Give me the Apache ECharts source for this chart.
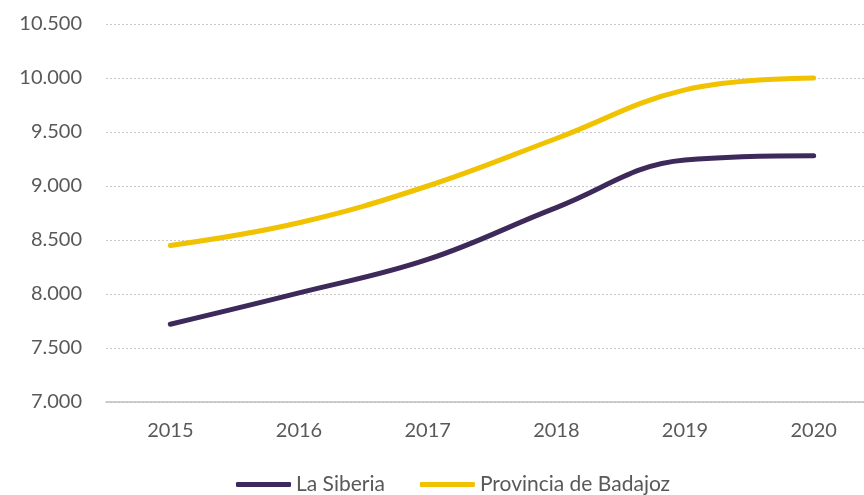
<!DOCTYPE html>
<html>
<head>
<meta charset="utf-8">
<script src="https://cdn.jsdelivr.net/npm/echarts@6/dist/echarts.min.js"></script>
<style>
  html, body { margin: 0; padding: 0; background: #fff; }
  #chart { width: 864px; height: 495px; }
</style>
</head>
<body>
<div id="chart"></div>
<script>
var years = ['2015', '2016', '2017', '2018', '2019', '2020'];
var laSiberia = [7720, 8010, 8320, 8800, 9240, 9280];
var badajoz = [8450, 8660, 9000, 9440, 9890, 10000];

var chart = echarts.init(document.getElementById('chart'));
var option = {
    animation: false,
    textStyle: { fontFamily: 'Lato, sans-serif' },
    grid: { left: 106, right: -14, top: 24, bottom: 93, outerBoundsMode: 'none' },
    legend: {
        bottom: -5,
        left: 231,
        itemWidth: 55,
        itemHeight: 5,
        itemGap: 35,
        textStyle: { fontSize: 21, color: '#595959' },
        data: [
            { name: 'La Siberia', icon: 'roundRect' },
            { name: 'Provincia de Badajoz', icon: 'roundRect' }
        ]
    },
    xAxis: {
        type: 'category',
        data: years,
        axisLine: { lineStyle: { color: '#bfbfbf', width: 1.5 } },
        axisTick: { show: false },
        axisLabel: { fontSize: 20, color: '#595959', margin: 19 }
    },
    yAxis: {
        type: 'value',
        min: 7000,
        max: 10500,
        interval: 500,
        axisLine: { show: false },
        axisTick: { show: false },
        axisLabel: {
            fontSize: 20,
            color: '#595959',
            margin: 24,
            formatter: function (v) {
                return v.toString().replace(/\B(?=(\d{3})+(?!\d))/g, '.');
            }
        },
        splitLine: { lineStyle: { color: '#c8c8c8', type: [2, 2] } }
    },
    series: [
        {
            name: 'La Siberia',
            type: 'line',
            data: laSiberia,
            smooth: 0.4,
            symbol: 'none',
            itemStyle: { color: '#3d2a5b' },
            lineStyle: { color: '#3d2a5b', width: 5, cap: 'round' }
        },
        {
            name: 'Provincia de Badajoz',
            type: 'line',
            data: badajoz,
            smooth: 0.4,
            symbol: 'none',
            itemStyle: { color: '#f0c200' },
            lineStyle: { color: '#f0c200', width: 5, cap: 'round' }
        }
    ]
};
chart.setOption(option);
window.addEventListener('resize', chart.resize);
</script>
</body>
</html>
